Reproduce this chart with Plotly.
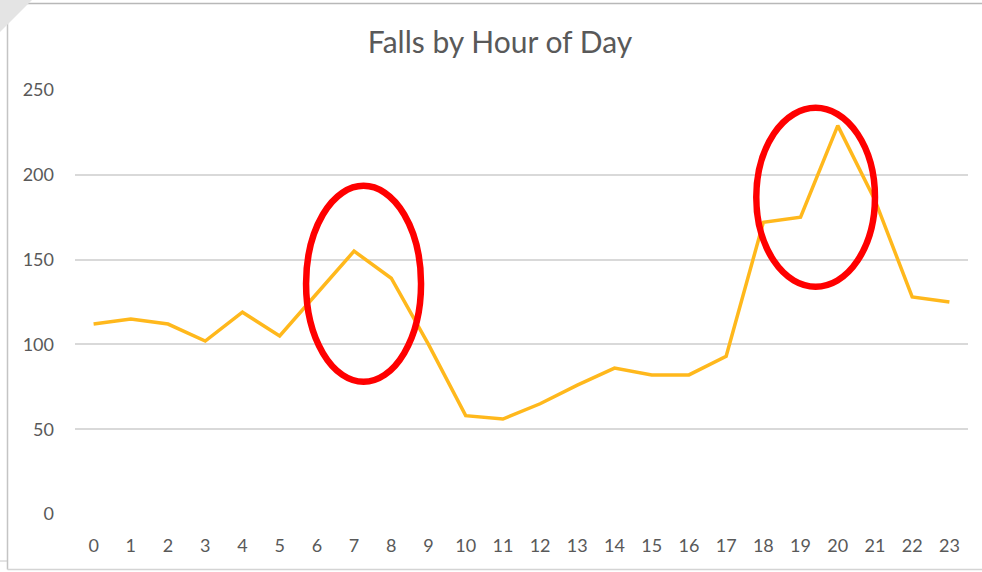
import plotly.graph_objects as go

hours = [str(h) for h in range(24)]
falls = [112, 115, 112, 102, 119, 105, 130, 155, 139, 100, 58, 56, 65, 76, 86, 82, 82, 93, 172, 175, 229, 185, 128, 125]
y_ticks = [0, 50, 100, 150, 200, 250]
title_text = "Falls by Hour of Day"

# plot area in pixels: x 75..968, y 90..514
L, R, T, B = 75, 968, 90, 514
W, H = 982, 572
def px(x):
    return (x - L) / (R - L)
def py(y):
    return (B - y) / (B - T)

fig = go.Figure()
fig.add_trace(go.Scatter(
    x=hours, y=falls, mode="lines",
    line=dict(color="#FFB81C", width=3.5),
    hoverinfo="x+y", showlegend=False,
))

shapes = [
    # red ellipses (data coords)
    dict(type="circle", xref="x", yref="y", x0=5.71, x1=8.80, y0=78, y1=193.5,
         line=dict(color="#FF0000", width=6.5), layer="above"),
    dict(type="circle", xref="x", yref="y", x0=17.81, x1=21.0, y0=134, y1=239.5,
         line=dict(color="#FF0000", width=6.5), layer="above"),
    # frame
    dict(type="line", xref="paper", yref="paper", x0=px(7.5), x1=px(990), y0=py(3.5), y1=py(3.5),
         line=dict(color="#b8b8b8", width=1.5)),
    dict(type="line", xref="paper", yref="paper", x0=px(7.5), x1=px(7.5), y0=py(3.5), y1=py(569.5),
         line=dict(color="#c4c4c4", width=1.5)),
    dict(type="line", xref="paper", yref="paper", x0=px(7.5), x1=px(990), y0=py(569.5), y1=py(569.5),
         line=dict(color="#d4d4d4", width=1.5)),
    dict(type="line", xref="paper", yref="paper", x0=px(0), x1=px(7), y0=py(561), y1=py(561),
         line=dict(color="#c8c8c8", width=1)),
    dict(type="path", xref="paper", yref="paper",
         path=f"M {px(0)},{py(0)} L {px(32)},{py(0)} L {px(0)},{py(32)} Z",
         fillcolor="#e4e4e4", line=dict(width=0)),
]

fig.update_layout(
    width=W, height=H,
    margin=dict(l=L, r=W - R, t=T, b=H - B),
    paper_bgcolor="white", plot_bgcolor="white",
    title=dict(text=title_text, x=(500) / W, xanchor="center", y=1 - 42 / H, yanchor="middle",
               font=dict(family="Lato, Open Sans, sans-serif", size=30, color="#595959")),
    xaxis=dict(type="category", range=[-0.5, 23.5], showgrid=False, zeroline=False,
               showline=False, ticks="", tickfont=dict(family="Lato, sans-serif", size=18, color="#595959"),
               ticklabelstandoff=19),
    yaxis=dict(range=[0, 250], tickvals=y_ticks, showgrid=True, gridcolor="#d9d9d9", gridwidth=1.5,
               zeroline=False, showline=False, ticks="",
               tickfont=dict(family="Lato, sans-serif", size=18, color="#595959"),
               ticklabelstandoff=20),
    shapes=shapes,
)
fig.write_html("out.html", config={"displayModeBar": False},
               post_script="document.body.style.margin='0px';")
